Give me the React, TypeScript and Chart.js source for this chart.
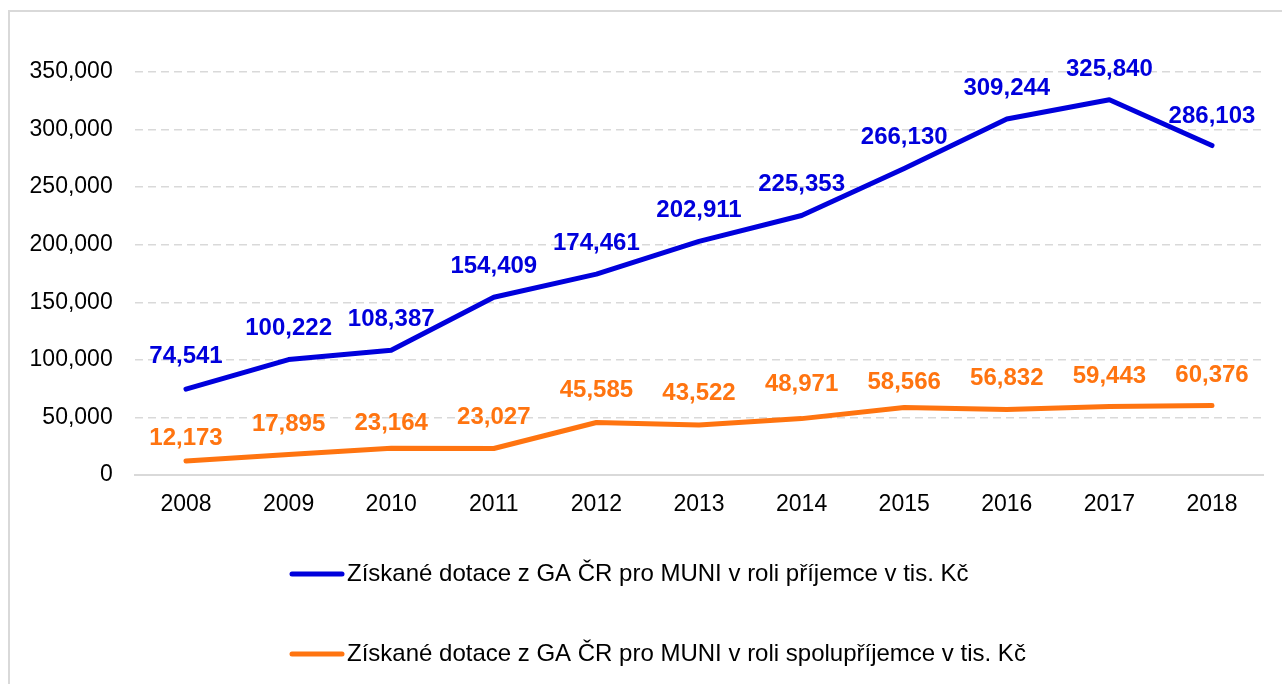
import React, { useEffect, useRef } from "react";
import { Chart, registerables } from "chart.js";

Chart.register(...registerables);

const years = ["2008", "2009", "2010", "2011", "2012", "2013", "2014", "2015", "2016", "2017", "2018"];
const recipientValues = [74541, 100222, 108387, 154409, 174461, 202911, 225353, 266130, 309244, 325840, 286103];
const coRecipientValues = [12173, 17895, 23164, 23027, 45585, 43522, 48971, 58566, 56832, 59443, 60376];
const seriesLabels = [
  "Získané dotace z GA ČR pro MUNI v roli příjemce v tis. Kč",
  "Získané dotace z GA ČR pro MUNI v roli spolupříjemce v tis. Kč",
];
const seriesColors = ["#0000DC", "#FF7410"];
const yTicksMax = 350000;
const yTicksStep = 50000;

const FONT = "'Liberation Sans', Arial, sans-serif";

// vertical distance of each data label above its point (px)
const recipientLabelLift = [33, 31, 31, 31, 31, 31, 31, 31, 31, 30, 29];
const coRecipientLabelLift = [23, 30, 25, 31, 32, 32, 34, 25, 31, 30, 30];

const fmt = (v: number) => v.toLocaleString("en-US");

const labelsPlugin = {
  id: "pointLabels",
  afterDatasetsDraw(chart: any) {
    const ctx = chart.ctx;
    ctx.save();
    ctx.font = `bold 24px ${FONT}`;
    ctx.textAlign = "center";
    ctx.textBaseline = "middle";
    const lifts = [recipientLabelLift, coRecipientLabelLift];
    chart.data.datasets.forEach((ds: any, i: number) => {
      const meta = chart.getDatasetMeta(i);
      meta.data.forEach((pt: any, j: number) => {
        ctx.fillStyle = ds.borderColor;
        ctx.fillText(fmt(ds.data[j]), pt.x, pt.y - lifts[i][j]);
      });
    });
    ctx.restore();
  },
};

const legendPlugin = {
  id: "customLegend",
  afterDraw(chart: any) {
    const ctx = chart.ctx;
    ctx.save();
    const x0 = 280;
    const ys = [562, 642];
    chart.data.datasets.forEach((ds: any, i: number) => {
      const y = ys[i];
      ctx.strokeStyle = ds.borderColor;
      ctx.lineWidth = 5;
      ctx.lineCap = "round";
      ctx.beginPath();
      ctx.moveTo(x0 + 2, y);
      ctx.lineTo(x0 + 52, y);
      ctx.stroke();
      ctx.fillStyle = "#000";
      ctx.font = `24px ${FONT}`;
      ctx.textAlign = "left";
      ctx.textBaseline = "middle";
      ctx.fillText(ds.label, x0 + 57, y);
    });
    ctx.restore();
  },
};

export default function App() {
  const ref = useRef<HTMLCanvasElement>(null);
  useEffect(() => {
    if (!ref.current) return;
    const chart = new Chart(ref.current, {
      type: "line",
      data: {
        labels: years,
        datasets: [
          {
            label: seriesLabels[0],
            data: recipientValues,
            borderColor: seriesColors[0],
            backgroundColor: seriesColors[0],
            borderWidth: 5,
            pointRadius: 0,
            tension: 0,
            borderCapStyle: "round",
            borderJoinStyle: "round",
          },
          {
            label: seriesLabels[1],
            data: coRecipientValues,
            borderColor: seriesColors[1],
            backgroundColor: seriesColors[1],
            borderWidth: 5,
            pointRadius: 0,
            tension: 0,
            borderCapStyle: "round",
            borderJoinStyle: "round",
          },
        ],
      },
      options: {
        responsive: false,
        animation: false,
        layout: { padding: { left: 0, right: 18.7, top: 60, bottom: 0 } },
        plugins: {
          legend: { display: false },
          tooltip: { enabled: false },
        },
        scales: {
          x: {
            offset: true,
            grid: { display: false, drawTicks: false },
            border: { display: true, color: "#d9d9d9", width: 2 },
            ticks: { color: "#000", font: { family: FONT, size: 23 }, padding: 16, maxRotation: 0 },
            afterFit: (s: any) => {
              s.height = 211;
            },
          },
          y: {
            min: 0,
            max: yTicksMax,
            grid: { color: "#d9d9d9", lineWidth: 1.5, drawTicks: false },
            border: { display: false, dash: [8, 5] },
            ticks: {
              stepSize: yTicksStep,
              color: "#000",
              font: { family: FONT, size: 23 },
              padding: 22,
              callback: (v: any) => fmt(Number(v)),
            },
            afterFit: (s: any) => {
              s.width = 124.7;
            },
          },
        },
      },
      plugins: [labelsPlugin, legendPlugin],
    } as any);
    return () => chart.destroy();
  }, []);
  return (
    <div
      style={{
        position: "fixed",
        left: 8,
        top: 10,
        borderTop: "2px solid #d9d9d9",
        borderLeft: "2px solid #d9d9d9",
        width: 1274,
        height: 676,
      }}
    >
      <canvas ref={ref} width={1272} height={674} style={{ display: "block" }} />
    </div>
  );
}
